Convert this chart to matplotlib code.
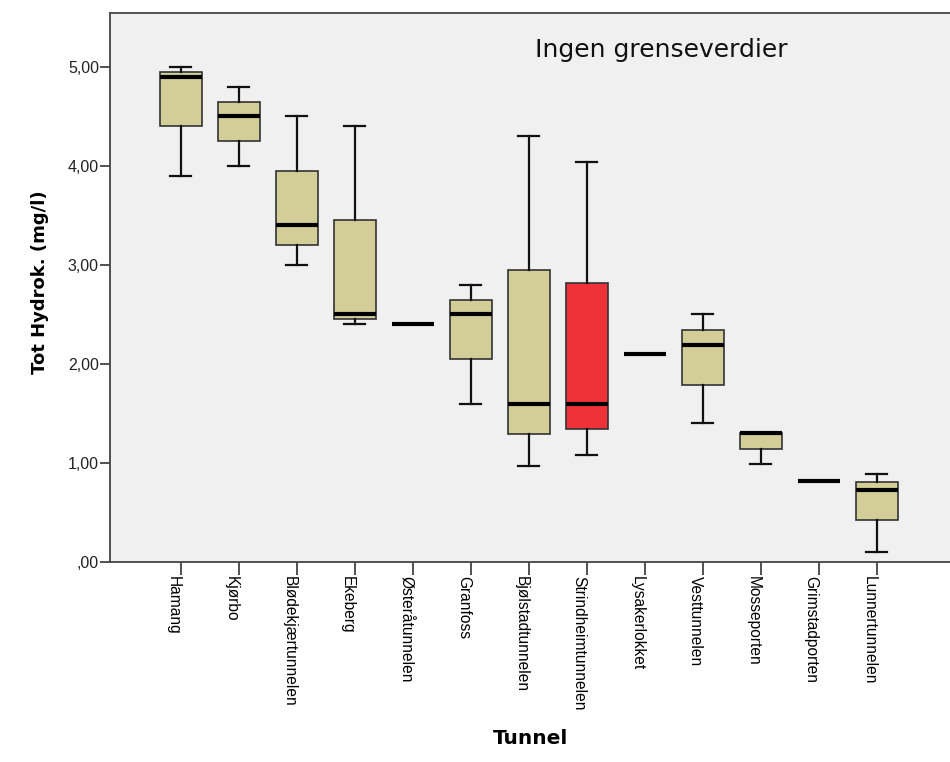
import matplotlib
matplotlib.use('Agg')
import matplotlib.pyplot as plt

tunnels = ['Hamang', 'Kjørbo', 'Blødekjærtunnelen', 'Ekeberg', 'Østeråtunnelen',
           'Granfoss', 'Bjølstadtunnelen', 'Strindheimtunnelen', 'Lysakerlokket',
           'Vesttunnelen', 'Mosseporten', 'Grimstadporten', 'Lunnertunnelen']
whislo = [3.90, 4.00, 3.00, 2.40, 2.40, 1.60, 0.97, 1.08, 2.10, 1.40, 0.99, 0.82, 0.10]
q1     = [4.40, 4.25, 3.20, 2.45, 2.40, 2.05, 1.29, 1.34, 2.10, 1.79, 1.14, 0.82, 0.42]
med    = [4.90, 4.50, 3.40, 2.50, 2.40, 2.50, 1.60, 1.60, 2.10, 2.19, 1.30, 0.82, 0.73]
q3     = [4.95, 4.65, 3.95, 3.45, 2.40, 2.65, 2.95, 2.82, 2.10, 2.34, 1.30, 0.82, 0.81]
whishi = [5.00, 4.80, 4.50, 4.40, 2.40, 2.80, 4.30, 4.04, 2.10, 2.50, 1.30, 0.82, 0.89]
highlight = 'Strindheimtunnelen'

stats = []
for i in range(len(tunnels)):
    stats.append({'whislo': whislo[i], 'q1': q1[i], 'med': med[i], 'q3': q3[i],
                  'whishi': whishi[i], 'fliers': [], 'label': tunnels[i]})

fig = plt.figure(figsize=(9.5, 7.62), dpi=100)
ax = fig.add_axes([0.1158, 0.2625, 0.884, 0.7205])
ax.set_facecolor('#f0f0f0')

bp = ax.bxp(stats, positions=range(len(tunnels)), widths=0.72, capwidths=0.36,
            patch_artist=True, showfliers=False,
            boxprops=dict(edgecolor='#333333', linewidth=1.2),
            whiskerprops=dict(color='#111111', linewidth=1.6),
            capprops=dict(color='#111111', linewidth=1.6),
            medianprops=dict(color='black', linewidth=3, solid_capstyle='butt'))
for name, box in zip(tunnels, bp['boxes']):
    box.set_facecolor('#ef3237' if name == highlight else '#d3ce97')

ax.set_xlim(-1.22, 13.26)
ax.set_ylim(0, 5.545)
ax.set_yticks([0, 1, 2, 3, 4, 5])
ax.set_yticklabels([',00', '1,00', '2,00', '3,00', '4,00', '5,00'],
                   family='Liberation Sans', fontsize=11.5, color='#222222')
ax.set_xticks(range(len(tunnels)))
# labels sit just left of the tick, as in the original
ax.set_xticklabels(tunnels, rotation=-90, ha='right', va='top',
                   family='Liberation Sans', fontsize=11.2)
ax.tick_params(axis='y', length=7, width=1.2, color='#333333', pad=1)
ax.tick_params(axis='x', length=9, width=1.2, color='#333333', pad=1)

for s in ['left', 'bottom', 'top']:
    ax.spines[s].set_color('#444444')
    ax.spines[s].set_linewidth(1.3)
ax.spines['right'].set_visible(False)

fig.text(40 / 950, 1 - 282 / 762, 'Tot Hydrok. (mg/l)', rotation=90,
         ha='center', va='center', family='DejaVu Sans', fontweight='bold', fontsize=13)
fig.text(531 / 950, 1 - 738 / 762, 'Tunnel', ha='center', va='center',
         family='DejaVu Sans', fontweight='bold', fontsize=14.5)
ax.text(0.656, 0.933, 'Ingen grenseverdier', transform=ax.transAxes,
        ha='center', va='center', fontsize=18, family='DejaVu Sans', color='#111111')

fig.savefig('out.png', dpi=100)
